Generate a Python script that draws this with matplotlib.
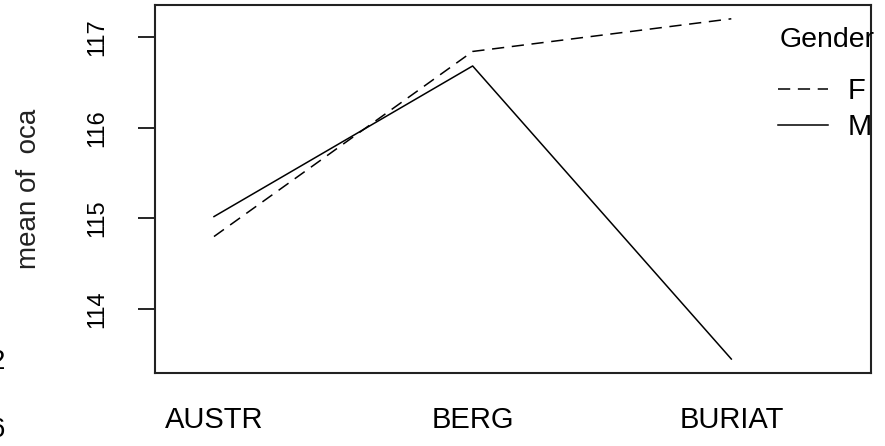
import matplotlib.pyplot as plt
from matplotlib import font_manager

plt.rcParams['font.family'] = ['Liberation Sans', 'DejaVu Sans']

# means of oca by origin and gender (interaction plot)
origines = ["AUSTR", "BERG", "BURIAT"]
moy_F = [114.8, 116.84, 117.2]
moy_M = [115.02, 116.68, 113.45]
yticks = [114, 115, 116, 117]

noms = {f.name for f in font_manager.fontManager.ttflist}
if "Liberation Sans Narrow" in noms:
    police_x = "Liberation Sans Narrow"
    taille_x = 25
else:
    police_x = "Liberation Sans"
    taille_x = 21

fig = plt.figure(figsize=(8.85, 4.46), dpi=100)
ax = fig.add_axes([155/885, 1-373/446, (871-155)/885, (373-5)/446])

xs = list(range(1, len(origines)+1))
ax.plot(xs, moy_F, color="black", lw=1.1, linestyle=(0, (8, 5)))
ax.plot(xs, moy_M, color="black", lw=1.1)

ax.set_xlim(0.772, 3.54)
ax.set_ylim(113.296, 117.352)

ax.set_yticks(yticks)
ax.set_yticklabels([str(v) for v in yticks], rotation=90, va="center", fontsize=17)
ax.tick_params(axis="y", length=12, width=1.2, pad=22)
ax.set_xticks(xs)
ax.set_xticklabels(origines, fontsize=taille_x, family=police_x)
ax.tick_params(axis="x", length=0, pad=24)
for s in ax.spines.values():
    s.set_linewidth(1.5)
    s.set_color("#222222")

ax.set_ylabel("mean of  oca", fontsize=20, color="#222222")
ax.yaxis.set_label_coords(-113/716, 0.5)

# legende maison comme dans R
ax.text(780/885, 1-40/446, "Gender", transform=fig.transFigure, fontsize=20.5,
        va="center", ha="left", clip_on=False)
fig.add_artist(plt.Line2D([778/885, 828/885], [1-89/446, 1-89/446], color="black",
                          lw=1.1, linestyle=(0, (8, 5))))
fig.add_artist(plt.Line2D([778/885, 828/885], [1-125/446, 1-125/446], color="black", lw=1.1))
ax.text(848/885, 1-91/446, "F", transform=fig.transFigure, fontsize=21, va="center")
ax.text(848/885, 1-127/446, "M", transform=fig.transFigure, fontsize=21, va="center")

# bouts de texte coupés au bord gauche
fig.text(5/885, 1-362/446, "2", fontsize=20, ha="right", va="center")
fig.text(5/885, 1-430/446, "6", fontsize=20, ha="right", va="center")

plt.savefig("out.png")
